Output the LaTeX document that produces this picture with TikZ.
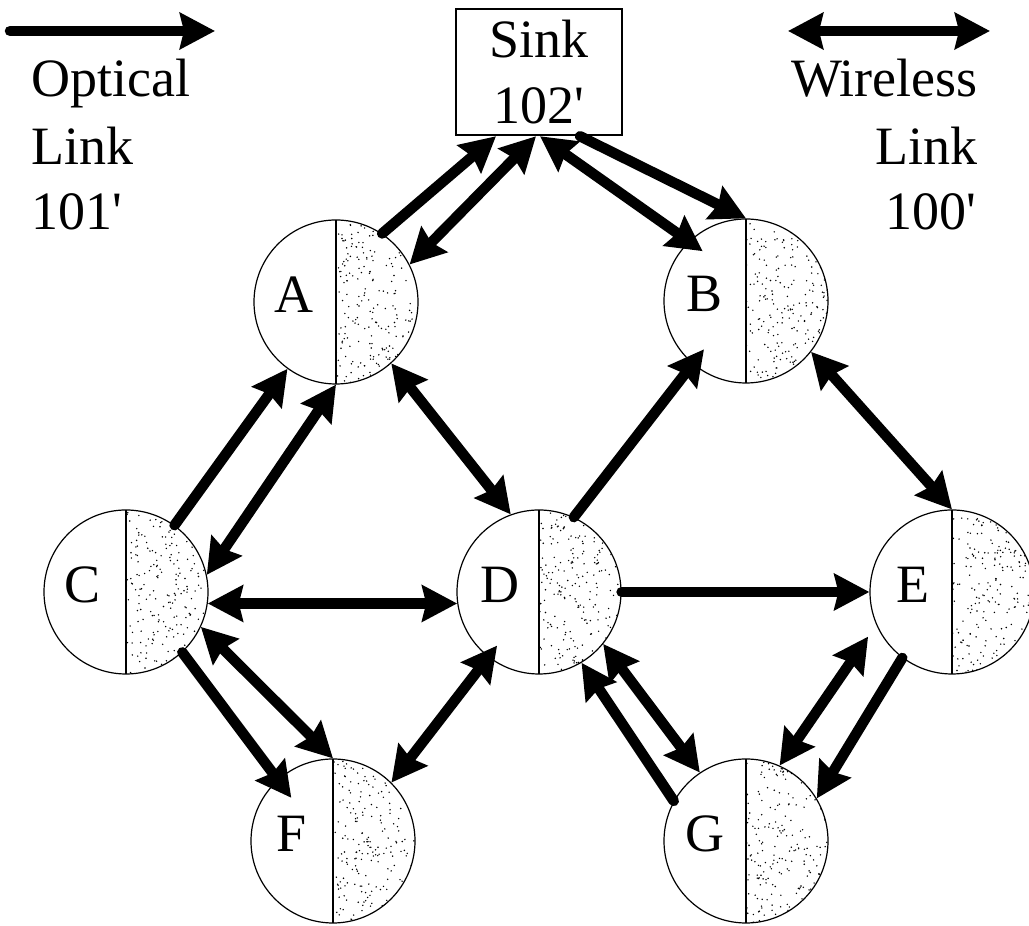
\documentclass[tikz,border=0pt]{standalone}
\usepackage{fontspec}
\setmainfont{Liberation Serif}
\usetikzlibrary{arrows.meta,calc}
\begin{document}
\begin{tikzpicture}[x=1pt,y=1pt,
  txt/.style={font=\fontsize{54pt}{66pt}\selectfont, inner sep=0pt},
  halfnode/.style={circle, draw, line width=1.2pt, minimum size=164pt, inner sep=0pt,
    path picture={
      \coordinate (pc) at (path picture bounding box.center);
      \foreach \i in {1,...,230}{
        \pgfmathsetmacro\dx{rnd*82}
        \pgfmathsetmacro\dy{(2*rnd-1)*82}
        \fill ([xshift=\dx pt, yshift=\dy pt]pc) circle (0.8pt);
      }
      \draw[line width=1.2pt] (path picture bounding box.north) -- (path picture bounding box.south);
    }},
  wl/.style={line width=10.5pt, {Stealth[length=35pt,width=36pt,inset=4pt]}-{Stealth[length=35pt,width=36pt,inset=4pt]}},
  ol/.style={line width=10.5pt, line cap=round, -{Stealth[length=35pt,width=36pt,inset=4pt]}},
  sinkbox/.style={draw, line width=2.5pt, minimum width=166pt, minimum height=126pt, align=center, font=\fontsize{54pt}{66pt}\selectfont, inner sep=0pt}
]
\useasboundingbox (0,0) rectangle (1029,926);
\fill[white] (0,0) rectangle (1029,926);
\pgfmathsetseed{7}

% nodes
\node[sinkbox] (S) at (539,854) {Sink\\102\textquotesingle};
\node[halfnode] (A) at (336,624) {};
\node[halfnode] (B) at (746,625) {};
\node[halfnode] (C) at (126,334) {};
\node[halfnode] (D) at (539,334) {};
\node[halfnode] (E) at (952,334) {};
\node[halfnode] (F) at (333,85) {};
\node[halfnode] (G) at (746,85) {};

\node[txt, anchor=base] (Al) at ($(A)+(-42,-11)$) {A};
\node[txt, anchor=base] (Bl) at ($(B)+(-41,-11)$) {B};
\node[txt, anchor=base] (Cl) at ($(C)+(-43,-11)$) {C};
\node[txt, anchor=base] (Dl) at ($(D)+(-39,-11)$) {D};
\node[txt, anchor=base] (El) at ($(E)+(-39,-11)$) {E};
\node[txt, anchor=base] (Fl) at ($(F)+(-41,-11)$) {F};
\node[txt, anchor=base] (Gl) at ($(G)+(-41,-11)$) {G};

% legend
\coordinate (o1) at (10,895);
\coordinate (o2) at (215,895);
\draw[ol] (o1) -- (o2);
\node[txt, anchor=base west] (ot1) at (31,829) {Optical};
\node[txt, anchor=base west] (ot2) at (31,761) {Link};
\node[txt, anchor=base west] (ot3) at (31,696) {101\textquotesingle};

\coordinate (w1) at (788,895);
\coordinate (w2) at (990,895);
\draw[wl] (w1) -- (w2);
\node[txt, anchor=base east] (wt1) at (978,829) {Wireless};
\node[txt, anchor=base east] (wt2) at (978,761) {Link};
\node[txt, anchor=base east] (wt3) at (976,696) {100\textquotesingle};

% connectors
\draw[ol] (A.56) -- ([xshift=-43pt]S.south);
\draw[wl] ([xshift=-3pt]S.south) -- (A.27);
\draw[wl] ([xshift=1pt]S.south) -- ($(B)+(131:66)$);
\draw[ol] ([xshift=41pt]S.south) -- (B.north);
\draw[wl] (A.-48) -- (D.110);
\draw[ol] (C.54) -- (A.-126);
\draw[wl] (A.south) -- (C.12);
\draw[wl] (C.-8) -- (D.188);
\draw[wl] (C.-25) -- (F.north);
\draw[ol] (C.-47) -- ($(F)+(134:60)$);
\draw[wl] ($(D)+(-128:68)$) -- (F.45);
\draw[ol] (D.65) -- ($(B)+(-131:64)$);
\draw[ol] (D.east) -- (E.west);
\draw[wl] (B.-38) -- (E.north);
\draw[wl] (D.-39) -- (G.124);
\draw[ol] (G.151) -- (D.-59);
\draw[wl] ($(E)+(-152:95)$) -- (G.66);
\draw[ol] (E.-127) -- (G.31);
\end{tikzpicture}
\end{document}
